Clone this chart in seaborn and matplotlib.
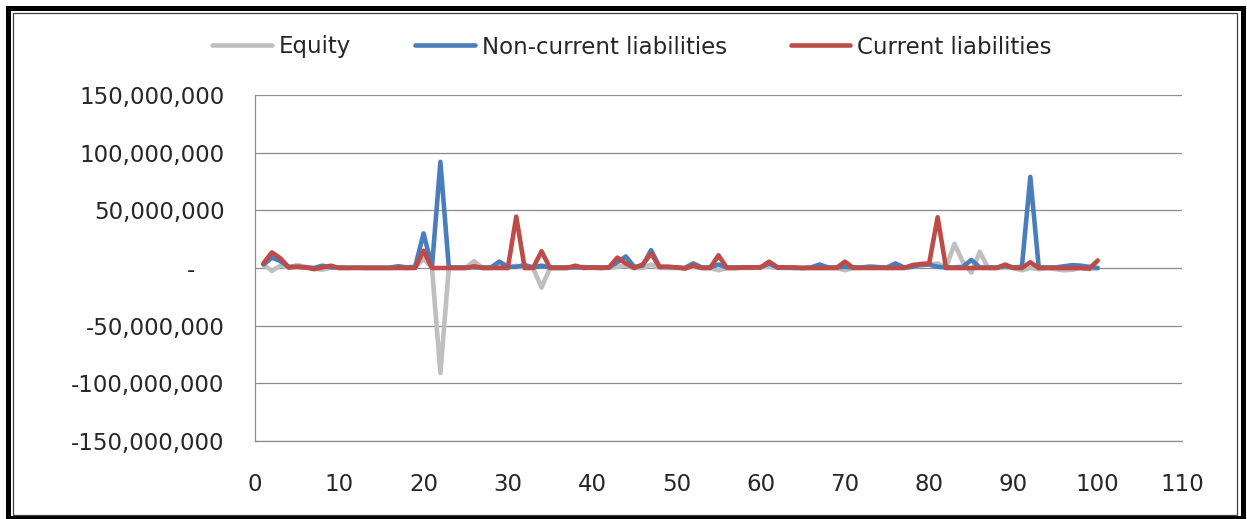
import numpy as np
import pandas as pd
import matplotlib
matplotlib.use("Agg")
import matplotlib.pyplot as plt
import seaborn as sns
from matplotlib.ticker import FuncFormatter
from matplotlib.patches import Rectangle
from matplotlib.lines import Line2D

# ---- data (in millions) ----
periods = list(range(1, 101))

equity_m = [3, -2.5, 2, 0.5, 2.5, 1, -0.5, -1.5, 0.5, 0,
            0, 0.5, 0, 0, 0, 0, 0.5, 0, 0.5, 8,
            0, -91, 0, 0, 0, 6, 0, 0, 1, 0,
            2, 0, 0, -17, 0, 0, 0, 0.5, 1, 0,
            0, 0, 1, 2, 0, 0, 3, 0, 0, 0,
            0, 1, 0, 0, -2, 0, 0, 0, 0, 1,
            1, 0, 0, 0, 0, 0, 0, 0, 0, -2,
            0, 0.5, 1.5, 1, 0, 1, 0, 1, 2, 3,
            4, 0, 21, 5, -4, 14, 0, 0, 0.5, 0,
            -2, 0, -1, 0, -1, -2, -1.5, 0, -1, 0]

noncurrent_m = [3, 9, 6, 1, 1, 0.5, 0, 2, 0.5, 0.5,
                0.3, 0.3, 0.3, 0.3, 0.3, 0.3, 1.5, 0.5, 1, 30,
                1, 92, 0.5, 0.5, 0.5, 0.5, 0.5, 0.5, 5.5, 1,
                1, 2.5, 0.5, 2, 0.5, 0.5, 0.5, 0.5, 0.5, 0.5,
                0.5, 0.5, 5, 10, 1, 2, 15.5, 1, 1, 0.5,
                0, 4, 0.5, 0.5, 3, 0.5, 0.5, 0.5, 0.5, 0.5,
                4, 0.5, 0.5, 0, 0, 0.5, 3, 0.5, 0.5, 1,
                0.5, 0.5, 1, 0.5, 0.5, 4, 0.5, 1, 3, 3,
                1, 0.5, 0.5, 1, 7, 0.5, 0.5, 0.5, 1.5, 0.5,
                1, 79, 0.5, 0.5, 0.5, 1.5, 2.5, 2, 1, 0]

current_m = [4, 13.5, 8.5, 0.5, 1, 0.5, -1, 0.5, 2, 0,
             0, 0, 0, 0, 0, 0, 0, 0, 0, 15,
             0, 0, 0, 0, 0, 1.5, 0, 0, 0, 0,
             44.5, 0, 0, 14.5, 0, 0, 0, 2, 0, 0.5,
             0, 0.5, 9, 4, 0, 3, 12.5, 1, 1, 0.5,
             -0.5, 2, 0, 0, 11, 0, 0, 0.5, 0.5, 0.5,
             5.5, 0.5, 0.5, 0.5, 0, 0, 0, 0, 0, 5.5,
             0, 0, 0, 0, 0, 0, 0, 2.5, 3.5, 4,
             44, 0, 0, 0, 0, 0, 0, 0, 3, 0,
             0, 5, 0, 0, 0, 0, 0, 0, -0.5, 6.5]

series_names = ["Equity", "Non-current liabilities", "Current liabilities"]
series_colors = ["#BFBFBF", "#4A7EBB", "#BE4B48"]
x_ticks = [0, 10, 20, 30, 40, 50, 60, 70, 80, 90, 100, 110]
y_ticks = [-150e6, -100e6, -50e6, 0, 50e6, 100e6, 150e6]

df = pd.DataFrame({
    "period": periods * 3,
    "value": [v * 1e6 for v in equity_m + noncurrent_m + current_m],
    "series": [series_names[0]] * 100 + [series_names[1]] * 100 + [series_names[2]] * 100,
})

sns.set_style("white")
plt.rcParams["font.family"] = ["DejaVu Sans"]

W, H = 1247, 519
fig = plt.figure(figsize=(W / 100, H / 100), dpi=100)
ax = fig.add_axes([255 / W, 1 - 441 / H, (1182 - 255) / W, (441 - 95) / H])

sns.lineplot(data=df, x="period", y="value", hue="series", hue_order=series_names,
             palette=series_colors, linewidth=3.3, ax=ax, legend=False,
             estimator=None, sort=False)

ax.set_xlim(0, 110)
ax.set_ylim(-150e6, 150e6)
ax.set_xticks(x_ticks)
ax.set_yticks(y_ticks)
ax.yaxis.set_major_formatter(FuncFormatter(lambda v, p: "-    " if abs(v) < 1 else f"{v:,.0f}"))
ax.set_xlabel("")
ax.set_ylabel("")
ax.grid(axis="y", color="#8C8C8C", linewidth=0.9)
ax.grid(axis="x", visible=False)
ax.set_axisbelow(True)
for s in ["top", "right"]:
    ax.spines[s].set_visible(False)
for s in ["left", "bottom"]:
    ax.spines[s].set_color("#8C8C8C")
    ax.spines[s].set_linewidth(0.9)
ax.tick_params(axis="both", length=0, labelsize=16.5, colors="#262626")
ax.tick_params(axis="y", pad=22)
ax.tick_params(axis="x", pad=23)

# legend
handles = [Line2D([0], [0], color=c, lw=3.3, solid_capstyle="round") for c in series_colors]
fig.legend(handles, series_names, loc="center", bbox_to_anchor=(632 / W, 1 - 47 / H),
           ncol=3, frameon=False, fontsize=16.5, handlelength=2.6, handletextpad=0.3,
           columnspacing=2.8, labelcolor="#262626")

# double border
fig.patches.append(Rectangle((7.5 / W, 1.5 / H), (1242.5 - 7.5) / W, (511.5 - 1.5) / H,
                             transform=fig.transFigure, fill=False, edgecolor="black",
                             linewidth=3.6, zorder=10))
fig.patches.append(Rectangle((13 / W, 4 / H), (1237 - 13) / W, (506 - 4) / H,
                             transform=fig.transFigure, fill=False, edgecolor="#404040",
                             linewidth=0.9, zorder=10))

fig.savefig("out.png", dpi=100)
